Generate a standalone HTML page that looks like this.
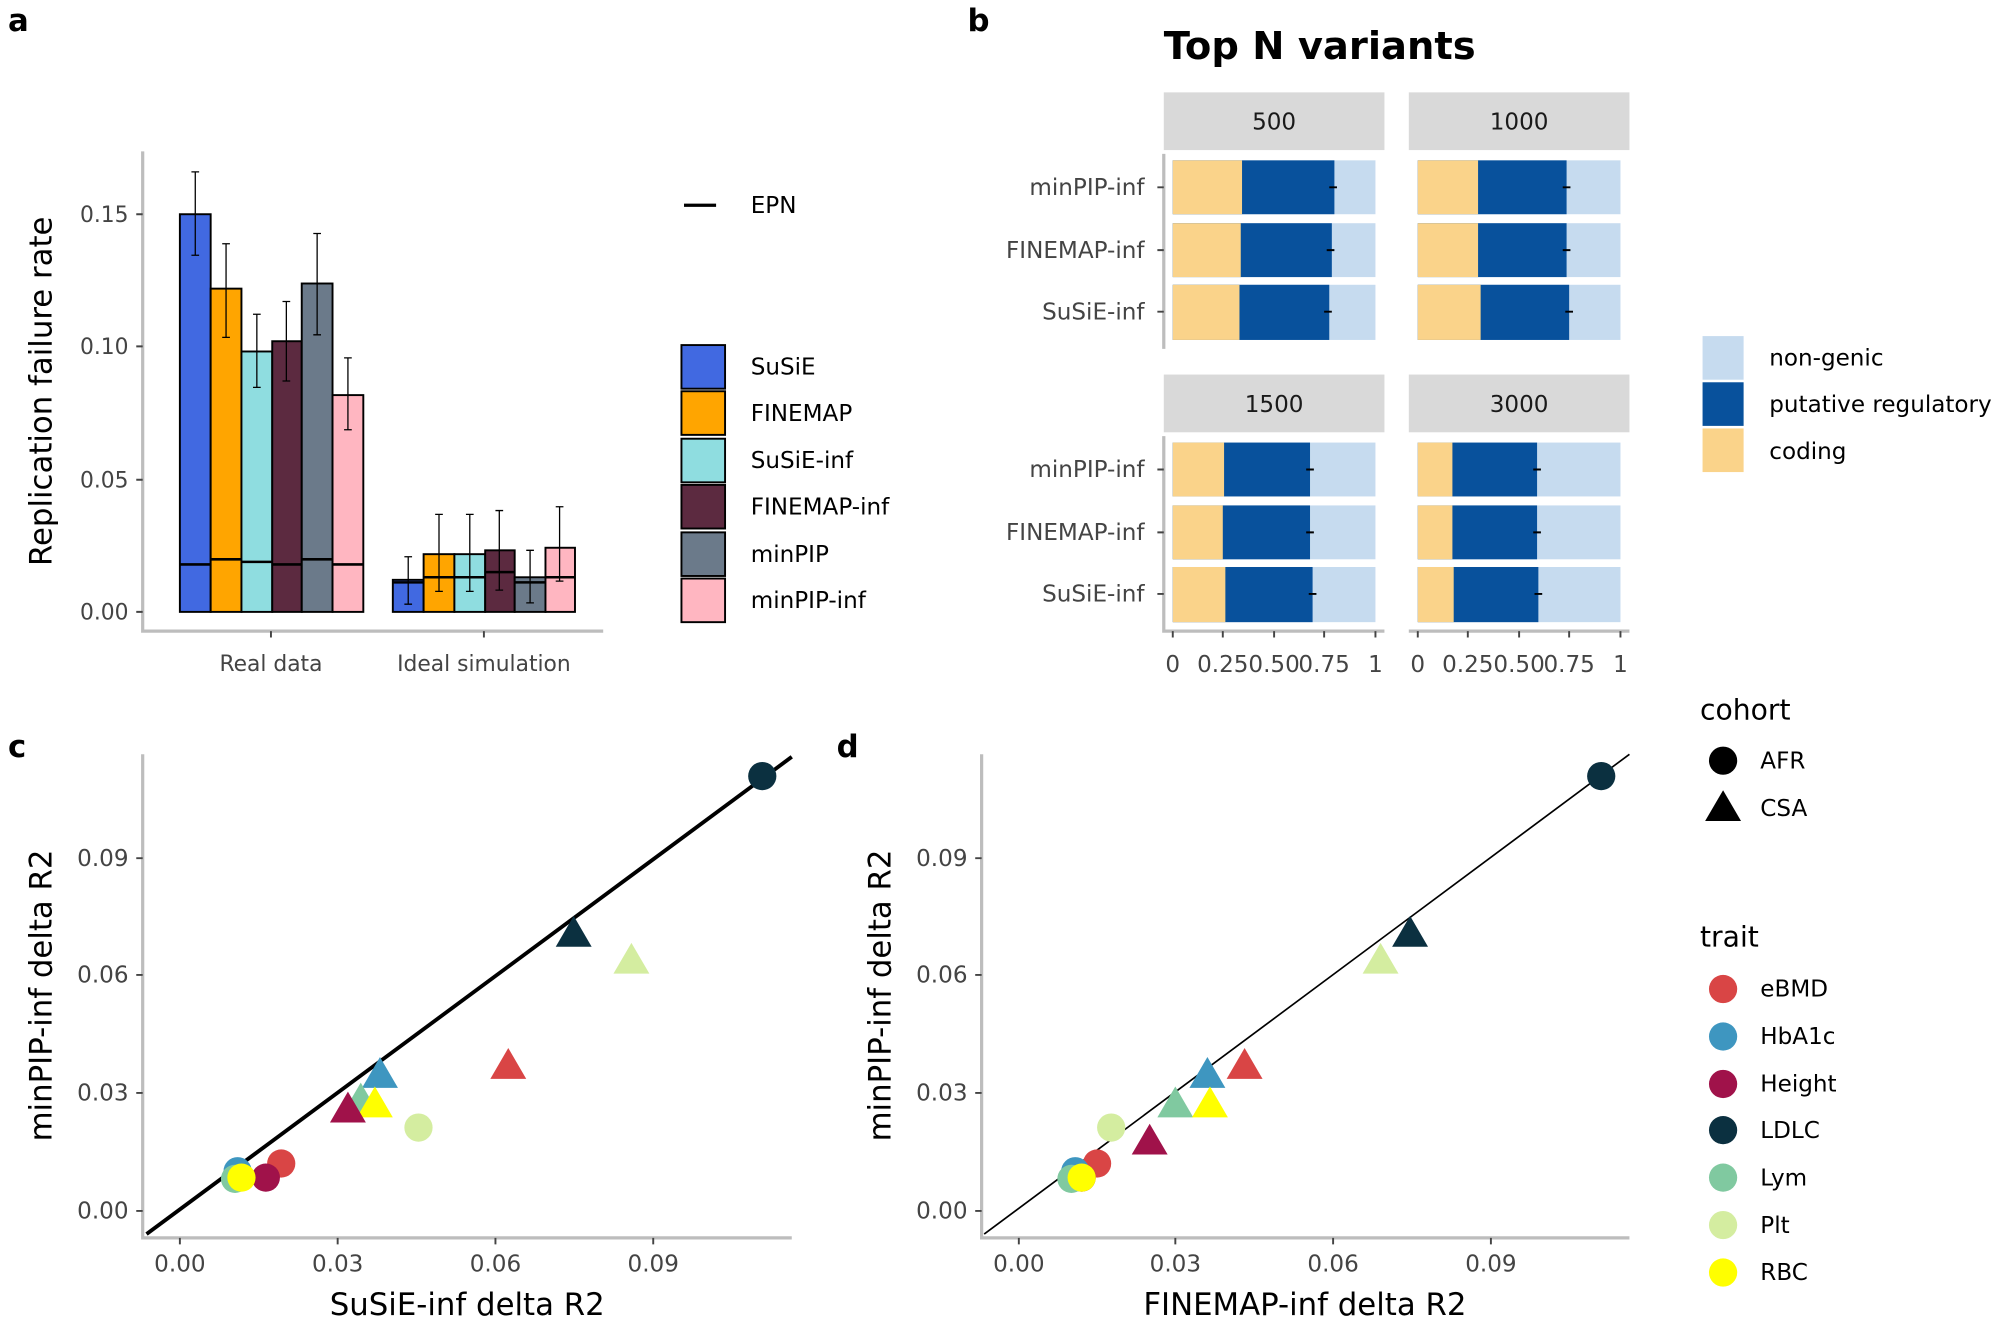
<!DOCTYPE html>
<html><head><meta charset="utf-8"><style>html,body{margin:0;padding:0;background:#fff}svg{display:block}</style></head>
<body>
<svg width="2012" height="1320" viewBox="0 0 1568 1029" xmlns="http://www.w3.org/2000/svg" font-family="'DejaVu Sans','Liberation Sans',sans-serif">
<rect width="1568" height="1029" fill="#fff"/>
<g font-weight="bold" font-size="24" fill="#000">
<text x="6" y="24">a</text><text x="754" y="24">b</text><text x="6" y="590">c</text><text x="652" y="590">d</text>
</g>
<g stroke="#bdbdbd" stroke-width="2.5" fill="none"><path d="M111 118V492H470"/></g>
<g stroke="#444" stroke-width="1.5"><path d="M106 477h5M106 374h5M106 270h5M106 167h5M211 492v5M377 492v5"/></g>
<g font-size="17" fill="#444" text-anchor="end"><text x="100" y="483">0.00</text><text x="100" y="380">0.05</text><text x="100" y="276">0.10</text><text x="100" y="173">0.15</text></g>
<g font-size="17" fill="#444" text-anchor="middle"><text x="211" y="523">Real data</text><text x="377" y="523">Ideal simulation</text></g>
<text transform="translate(40,305) rotate(-90)" font-size="24" text-anchor="middle">Replication failure rate</text>
<g stroke="#000" stroke-width="1.5">
<rect x="140" y="167" width="24" height="310" fill="#4169E1"/>
<rect x="164" y="225" width="24" height="252" fill="#FFA500"/>
<rect x="188" y="274" width="24" height="203" fill="#8FDDE0"/>
<rect x="212" y="266" width="23" height="211" fill="#5C2A40"/>
<rect x="235" y="221" width="24" height="256" fill="#6B7A8A"/>
<rect x="259" y="308" width="24" height="169" fill="#FFB6C1"/>
<rect x="306" y="452" width="24" height="25" fill="#4169E1"/>
<rect x="330" y="432" width="24" height="45" fill="#FFA500"/>
<rect x="354" y="432" width="24" height="45" fill="#8FDDE0"/>
<rect x="378" y="429" width="23" height="48" fill="#5C2A40"/>
<rect x="401" y="450" width="24" height="27" fill="#6B7A8A"/>
<rect x="425" y="427" width="23" height="50" fill="#FFB6C1"/>
<path d="M140 440h24M164 436h24M188 438h24M212 440h23M235 436h24M259 440h24M306 454h24M330 450h24M354 450h24M378 446h23M401 454h24M425 450h23" stroke-width="2"/>
</g>
<g stroke="#000" stroke-width="1">
<path d="M152 134v65M149 134h6M149 199h6"/>
<path d="M176 190v73M173 190h6M173 263h6"/>
<path d="M200 245v57M197 245h6M197 302h6"/>
<path d="M223 235v62M220 235h6M220 297h6"/>
<path d="M247 182v79M244 182h6M244 261h6"/>
<path d="M271 279v56M268 279h6M268 335h6"/>
<path d="M318 434v37M315 434h6M315 471h6"/>
<path d="M342 401v60M339 401h6M339 461h6"/>
<path d="M366 401v60M363 401h6M363 461h6"/>
<path d="M389 398v62M386 398h6M386 460h6"/>
<path d="M413 429v41M410 429h6M410 470h6"/>
<path d="M436 395v58M433 395h6M433 453h6"/>
</g>
<path d="M533 160h25" stroke="#000" stroke-width="2.5"/>
<text x="585" y="166" font-size="18">EPN</text>
<g stroke="#000" stroke-width="1.5">
<rect x="531" y="269" width="34" height="34" fill="#4169E1"/>
<rect x="531" y="305" width="34" height="34" fill="#FFA500"/>
<rect x="531" y="342" width="34" height="34" fill="#8FDDE0"/>
<rect x="531" y="378" width="34" height="34" fill="#5C2A40"/>
<rect x="531" y="415" width="34" height="34" fill="#6B7A8A"/>
<rect x="531" y="451" width="34" height="34" fill="#FFB6C1"/>
</g>
<g font-size="18"><text x="585" y="292">SuSiE</text><text x="585" y="328">FINEMAP</text><text x="585" y="365">SuSiE-inf</text><text x="585" y="401">FINEMAP-inf</text><text x="585" y="438">minPIP</text><text x="585" y="474">minPIP-inf</text></g>
<text x="907" y="46" font-size="30" font-weight="bold">Top N variants</text>
<g fill="#d9d9d9"><rect x="907" y="72" width="172" height="45"/><rect x="1098" y="72" width="172" height="45"/><rect x="907" y="292" width="172" height="45"/><rect x="1098" y="292" width="172" height="45"/></g>
<g font-size="18" fill="#1a1a1a" text-anchor="middle"><text x="993" y="101">500</text><text x="1184" y="101">1000</text><text x="993" y="321">1500</text><text x="1184" y="321">3000</text></g>
<g>
<g><rect x="914" y="125" width="158" height="42" fill="#C6DBEF"/><rect x="914" y="125" width="126" height="42" fill="#08519C"/><rect x="914" y="125" width="54" height="42" fill="#FAD38A"/></g>
<g><rect x="914" y="174" width="158" height="42" fill="#C6DBEF"/><rect x="914" y="174" width="124" height="42" fill="#08519C"/><rect x="914" y="174" width="53" height="42" fill="#FAD38A"/></g>
<g><rect x="914" y="222" width="158" height="43" fill="#C6DBEF"/><rect x="914" y="222" width="122" height="43" fill="#08519C"/><rect x="914" y="222" width="52" height="43" fill="#FAD38A"/></g>
<g><rect x="1105" y="125" width="158" height="42" fill="#C6DBEF"/><rect x="1105" y="125" width="116" height="42" fill="#08519C"/><rect x="1105" y="125" width="47" height="42" fill="#FAD38A"/></g>
<g><rect x="1105" y="174" width="158" height="42" fill="#C6DBEF"/><rect x="1105" y="174" width="116" height="42" fill="#08519C"/><rect x="1105" y="174" width="47" height="42" fill="#FAD38A"/></g>
<g><rect x="1105" y="222" width="158" height="43" fill="#C6DBEF"/><rect x="1105" y="222" width="118" height="43" fill="#08519C"/><rect x="1105" y="222" width="49" height="43" fill="#FAD38A"/></g>
<g><rect x="914" y="345" width="158" height="42" fill="#C6DBEF"/><rect x="914" y="345" width="107" height="42" fill="#08519C"/><rect x="914" y="345" width="40" height="42" fill="#FAD38A"/></g>
<g><rect x="914" y="394" width="158" height="42" fill="#C6DBEF"/><rect x="914" y="394" width="107" height="42" fill="#08519C"/><rect x="914" y="394" width="39" height="42" fill="#FAD38A"/></g>
<g><rect x="914" y="442" width="158" height="43" fill="#C6DBEF"/><rect x="914" y="442" width="109" height="43" fill="#08519C"/><rect x="914" y="442" width="41" height="43" fill="#FAD38A"/></g>
<g><rect x="1105" y="345" width="158" height="42" fill="#C6DBEF"/><rect x="1105" y="345" width="93" height="42" fill="#08519C"/><rect x="1105" y="345" width="27" height="42" fill="#FAD38A"/></g>
<g><rect x="1105" y="394" width="158" height="42" fill="#C6DBEF"/><rect x="1105" y="394" width="93" height="42" fill="#08519C"/><rect x="1105" y="394" width="27" height="42" fill="#FAD38A"/></g>
<g><rect x="1105" y="442" width="158" height="43" fill="#C6DBEF"/><rect x="1105" y="442" width="94" height="43" fill="#08519C"/><rect x="1105" y="442" width="28" height="43" fill="#FAD38A"/></g>
</g>
<g stroke="#000" stroke-width="1.5">
<path d="M1036 146h6M1034 195h6M1032 243h6M1218 146h6M1218 195h6M1220 243h6M1018 366h6M1018 415h6M1020 463h6M1195 366h6M1195 415h6M1196 463h6"/>
</g>
<g stroke="#bdbdbd" stroke-width="2.5" fill="none"><path d="M907 120V272M907 340V492H1079M1098 492H1270"/></g>
<g stroke="#444" stroke-width="1.5"><path d="M902 146h5M902 195h5M902 243h5M902 366h5M902 415h5M902 463h5M914 492v5M953 492v5M993 492v5M1032 492v5M1072 492v5M1105 492v5M1144 492v5M1184 492v5M1223 492v5M1263 492v5"/></g>
<g font-size="18" fill="#444" text-anchor="end"><text x="892" y="152">minPIP-inf</text><text x="892" y="201">FINEMAP-inf</text><text x="892" y="249">SuSiE-inf</text><text x="892" y="372">minPIP-inf</text><text x="892" y="421">FINEMAP-inf</text><text x="892" y="469">SuSiE-inf</text></g>
<g font-size="18" fill="#444" text-anchor="middle"><text x="914" y="524">0</text><text x="953" y="524">0.25</text><text x="993" y="524">0.50</text><text x="1032" y="524">0.75</text><text x="1072" y="524">1</text><text x="1105" y="524">0</text><text x="1144" y="524">0.25</text><text x="1184" y="524">0.50</text><text x="1223" y="524">0.75</text><text x="1263" y="524">1</text></g>
<rect x="1327" y="262" width="32" height="34" fill="#C6DBEF"/><rect x="1327" y="298" width="32" height="34" fill="#08519C"/><rect x="1327" y="334" width="32" height="34" fill="#FAD38A"/>
<g font-size="18"><text x="1379" y="285">non-genic</text><text x="1379" y="321">putative regulatory</text><text x="1379" y="358">coding</text></g>
<g stroke="#bdbdbd" stroke-width="2.5" fill="none"><path d="M111 588V965H617M765 588V965H1270"/></g>
<g stroke="#444" stroke-width="1.5"><path d="M106 944h5M106 852h5M106 760h5M106 669h5M140 965v5M263 965v5M386 965v5M509 965v5M760 944h5M760 852h5M760 760h5M760 669h5M794 965v5M916 965v5M1039 965v5M1162 965v5"/></g>
<g font-size="18" fill="#444" text-anchor="end"><text x="100" y="950">0.00</text><text x="100" y="858">0.03</text><text x="100" y="766">0.06</text><text x="100" y="675">0.09</text><text x="754" y="950">0.00</text><text x="754" y="858">0.03</text><text x="754" y="766">0.06</text><text x="754" y="675">0.09</text></g>
<g font-size="18" fill="#444" text-anchor="middle"><text x="140" y="991">0.00</text><text x="263" y="991">0.03</text><text x="386" y="991">0.06</text><text x="509" y="991">0.09</text><text x="794" y="991">0.00</text><text x="916" y="991">0.03</text><text x="1039" y="991">0.06</text><text x="1162" y="991">0.09</text></g>
<text transform="translate(40,776) rotate(-90)" font-size="24" text-anchor="middle">minPIP-inf delta R2</text>
<text transform="translate(694,776) rotate(-90)" font-size="24" text-anchor="middle">minPIP-inf delta R2</text>
<text x="364" y="1025" font-size="24" text-anchor="middle">SuSiE-inf delta R2</text>
<text x="1017" y="1025" font-size="24" text-anchor="middle">FINEMAP-inf delta R2</text>
<path d="M114 962L617 590" stroke="#000" stroke-width="3"/>
<path d="M767 962L1270 588" stroke="#000" stroke-width="1.3"/>
<g>
<polygon points="447,714 433,738 461,738" fill="#0B3040"/>
<polygon points="492,735 478,759 506,759" fill="#D4EDA0"/>
<polygon points="396,817 382,841 410,841" fill="#D94545"/>
<polygon points="296,824 282,848 310,848" fill="#3E96C0"/>
<polygon points="281,844 267,868 295,868" fill="#80C9A0"/>
<polygon points="292,847 278,871 306,871" fill="#FFFF00"/>
<polygon points="271,851 257,875 285,875" fill="#A0124A"/>
<circle cx="594" cy="605" r="11" fill="#0B3040"/>
<circle cx="326" cy="879" r="11" fill="#D4EDA0"/>
<circle cx="219" cy="907" r="11" fill="#D94545"/>
<circle cx="207" cy="918" r="11" fill="#A0124A"/>
<circle cx="185" cy="913" r="11" fill="#3E96C0"/>
<circle cx="183" cy="919" r="11" fill="#80C9A0"/>
<circle cx="188" cy="918" r="11" fill="#FFFF00"/>
</g>
<g>
<polygon points="1099,714 1085,738 1113,738" fill="#0B3040"/>
<polygon points="1076,735 1062,759 1090,759" fill="#D4EDA0"/>
<polygon points="970,817 956,841 984,841" fill="#D94545"/>
<polygon points="941,824 927,848 955,848" fill="#3E96C0"/>
<polygon points="916,847 902,871 930,871" fill="#80C9A0"/>
<polygon points="943,847 929,871 957,871" fill="#FFFF00"/>
<circle cx="866" cy="879" r="11" fill="#D4EDA0"/>
<polygon points="896,876 882,900 910,900" fill="#A0124A"/>
<circle cx="1248" cy="605" r="11" fill="#0B3040"/>
<circle cx="855" cy="907" r="11" fill="#D94545"/>
<circle cx="843" cy="918" r="11" fill="#A0124A"/>
<circle cx="838" cy="913" r="11" fill="#3E96C0"/>
<circle cx="835" cy="919" r="11" fill="#80C9A0"/>
<circle cx="843" cy="918" r="11" fill="#FFFF00"/>
</g>
<text x="1325" y="561" font-size="22">cohort</text>
<circle cx="1343" cy="593" r="11" fill="#000"/>
<polygon points="1343,616 1329,640 1357,640" fill="#000"/>
<g font-size="18"><text x="1372" y="599">AFR</text><text x="1372" y="636">CSA</text></g>
<text x="1325" y="738" font-size="22">trait</text>
<circle cx="1343" cy="771" r="11" fill="#D94545"/>
<circle cx="1343" cy="808" r="11" fill="#3E96C0"/>
<circle cx="1343" cy="845" r="11" fill="#A0124A"/>
<circle cx="1343" cy="881" r="11" fill="#0B3040"/>
<circle cx="1343" cy="918" r="11" fill="#80C9A0"/>
<circle cx="1343" cy="955" r="11" fill="#D4EDA0"/>
<circle cx="1343" cy="992" r="11" fill="#FFFF00"/>
<g font-size="18"><text x="1372" y="777">eBMD</text><text x="1372" y="814">HbA1c</text><text x="1372" y="851">Height</text><text x="1372" y="887">LDLC</text><text x="1372" y="924">Lym</text><text x="1372" y="961">Plt</text><text x="1372" y="998">RBC</text></g>
</svg>
</body></html>
